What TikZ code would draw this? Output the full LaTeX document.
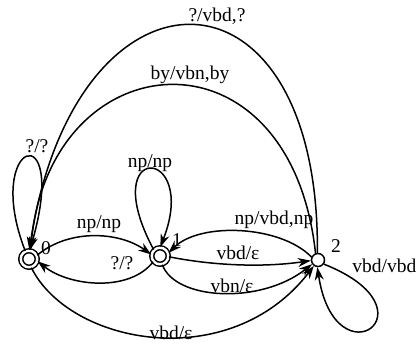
\documentclass[tikz,border=0pt]{standalone}
\usepackage{fontspec}
\setmainfont{Liberation Serif}
\usetikzlibrary{arrows.meta}
\begin{document}
\begin{tikzpicture}[x=1pt,y=-1pt,
  every node/.style={font=\fontsize{19.5}{22}\selectfont},
  acc/.style={circle,draw,line width=1.5pt,double,double distance=2.4pt,minimum size=16.5pt,inner sep=0pt},
  plain/.style={circle,draw,line width=1.5pt,minimum size=13pt,inner sep=0pt},
  edge/.style={line width=1.5pt,-{Stealth[length=13pt,width=9pt]}},
  lbl/.style={inner sep=0pt}]
\useasboundingbox (0,0) rectangle (417,345);
\node[acc] (n0) at (29,259) {};
\node[acc] (n1) at (160,256) {};
\node[plain] (n2) at (318,260) {};
\node[lbl] (l0) at (46,248) {0};
\node[lbl] (l1) at (177,240) {1};
\node[lbl] (l2) at (336,246) {2};
% self loop 0
\draw[edge] (n0.115) .. controls (-18,140) and (70,112) .. (n0.85);
\node[lbl] at (37,146) {?/?};
% 2 -> 0 big arcs
\draw[edge] (n2.95) .. controls (320,-50) and (75,-50) .. (n0.88);
\node[lbl] at (217,16) {?/vbd,?};
\draw[edge] (n2.110) .. controls (290,20) and (50,40) .. (n0.80);
\node[lbl] at (190,75) {by/vbn,by};
% 0 -> 1
\draw[edge] (n0.25) .. controls (70,228) and (120,232) .. (n1.170);
\node[lbl] at (99,224) {np/np};
% 1 -> 0
\draw[edge] (n1.220) .. controls (130,292) and (70,287) .. (n0.-15);
\node[lbl] at (122,263) {?/?};
% self loop 1
\draw[edge] (n1.135) .. controls (95,140) and (200,145) .. (n1.88);
\node[lbl] at (150,163) {np/np};
% 1 -> 2
\draw[edge] (n1.-5) .. controls (210,265) and (260,268) .. (n2.185);
\node[lbl] at (238,253) {vbd/ε};
\draw[edge] (n1.-75) .. controls (175,300) and (260,305) .. (n2.215);
\node[lbl] at (232,286) {vbn/ε};
% 2 -> 1
\draw[edge] (n2.155) .. controls (280,225) and (200,222) .. (n1.20);
\node[lbl] at (274,220) {np/vbd,np};
% 0 -> 2
\draw[edge] (n0.-75) .. controls (70,345) and (230,375) .. (n2.235);
\node[lbl] at (171,333) {vbd/ε};
% self loop 2
\draw[edge] (n2.-35) .. controls (440,310) and (335,385) .. (n2.-95);
\node[lbl,anchor=east] at (416.5,266) {vbd/vbd};
\end{tikzpicture}
\end{document}
